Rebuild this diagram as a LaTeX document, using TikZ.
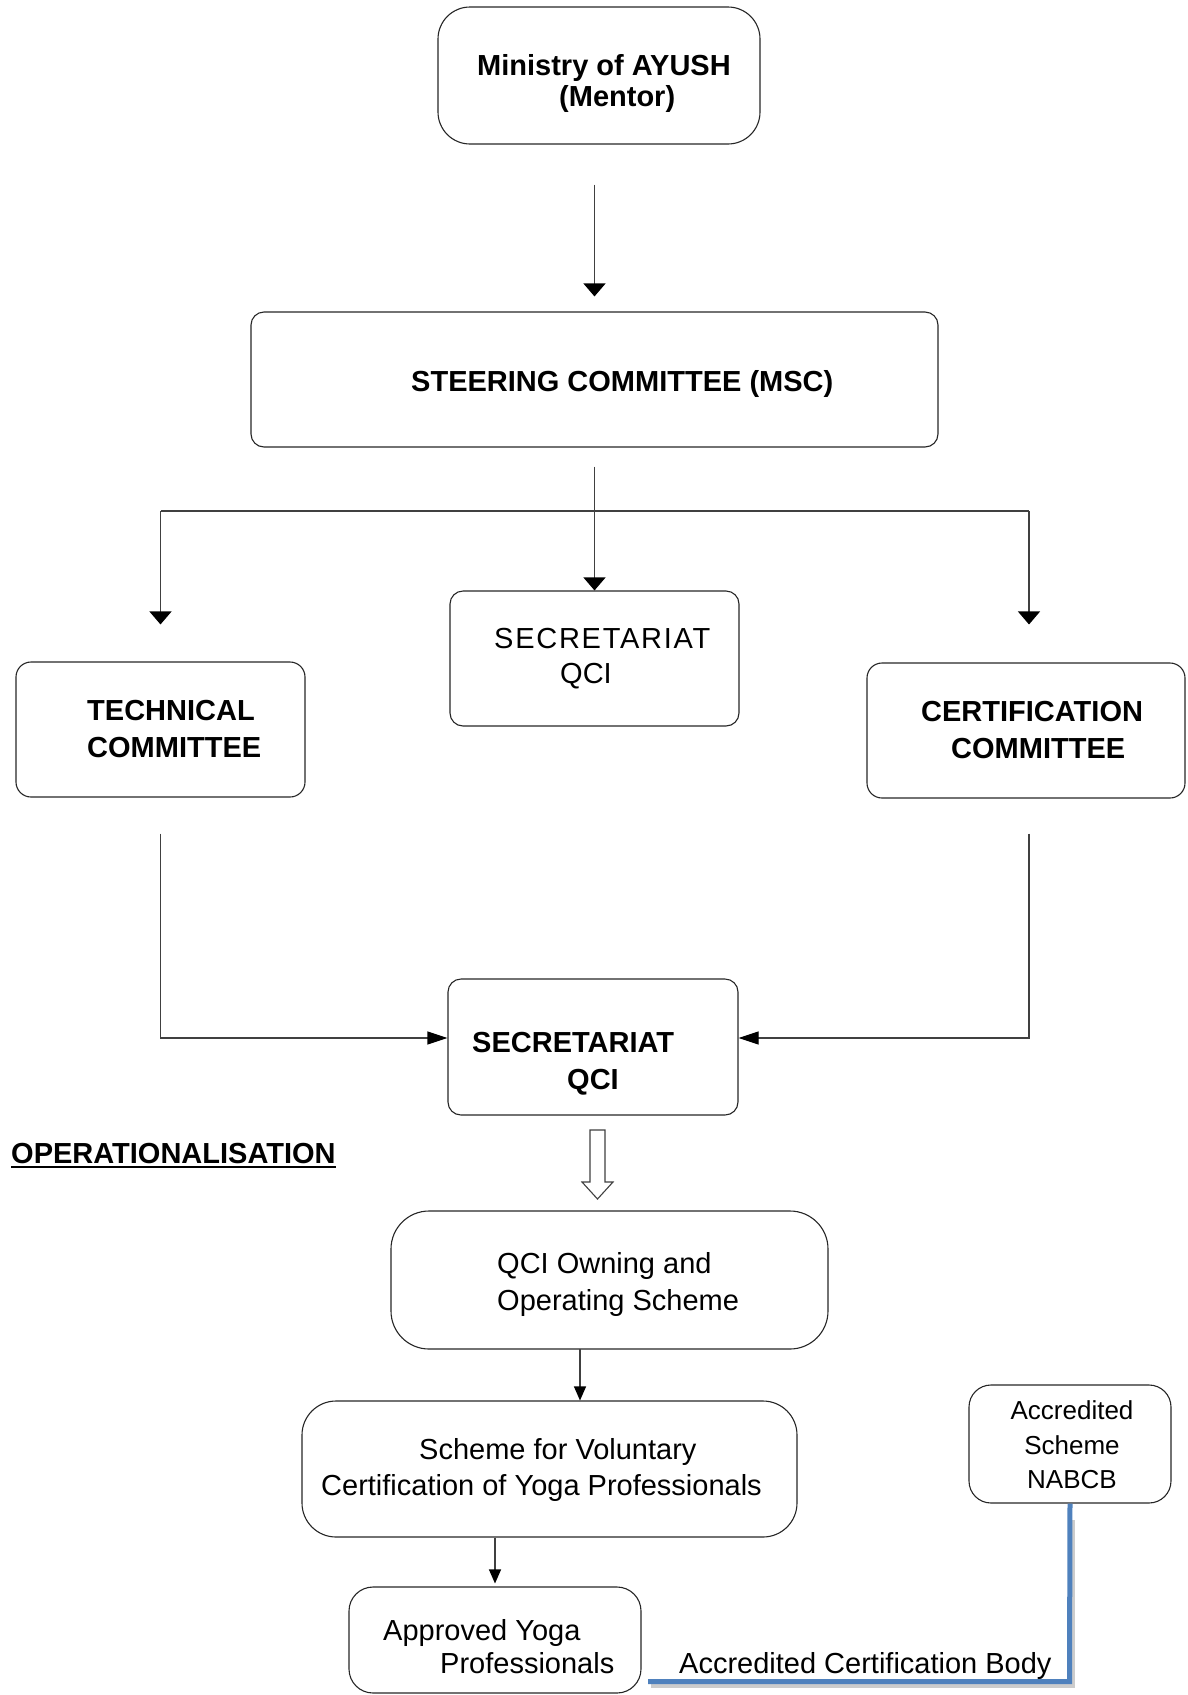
\documentclass[tikz,border=0pt]{standalone}
\usepackage{fontspec}
\setmainfont{Liberation Sans}
\usetikzlibrary{arrows.meta}
\definecolor{acblue}{RGB}{79,129,189}
\begin{document}
\begin{tikzpicture}[x=1pt,y=-1pt,
  box/.style={draw=black!85, line width=1.1pt, rounded corners=#1, inner sep=0pt},
  box/.default=14pt,
  ln/.style={draw=black!75, line width=1.1pt},
  varr/.style={ln, -{Triangle[length=13pt,width=22pt,color=black]}},
  harr/.style={ln, -{Triangle[length=20pt,width=13pt,color=black]}},
  sarr/.style={ln, -{Triangle[length=14pt,width=12pt,color=black]}},
  tb/.style={font=\fontsize{29pt}{33pt}\selectfont\bfseries, inner sep=0pt, anchor=base west},
  tr/.style={font=\fontsize{29pt}{33pt}\selectfont, inner sep=0pt, anchor=base west},
  ts/.style={font=\fontsize{26pt}{30pt}\selectfont, inner sep=0pt, anchor=base},
]
\useasboundingbox (0,0) rectangle (1188,1695);

% boxes
\node[box=32pt, minimum width=322pt, minimum height=137pt] (mini) at (599,75.5) {};
\node[box=13pt, minimum width=687pt, minimum height=135pt] (steer) at (594.5,379.5) {};
\node[box=13pt, minimum width=289pt, minimum height=135pt] (sec1) at (594.5,658.5) {};
\node[box=15pt, minimum width=289pt, minimum height=135pt] (tech) at (160.5,729.5) {};
\node[box=15pt, minimum width=318pt, minimum height=135pt] (cert) at (1026,730.5) {};
\node[box=13pt, minimum width=290pt, minimum height=136pt] (sec2) at (593,1047) {};
\node[box=38pt, minimum width=437pt, minimum height=138pt] (qown) at (609.5,1280) {};
\node[box=34pt, minimum width=495pt, minimum height=136pt] (scheme) at (549.5,1469) {};
\node[box=24pt, minimum width=292pt, minimum height=106pt] (appr) at (495,1640) {};
\node[box=22pt, minimum width=202pt, minimum height=118pt] (nabcb) at (1070,1444) {};

% texts
\node[tb] (tmini1) at (477,75) {Ministry of AYUSH};
\node[tb] (tmini2) at (559,106) {(Mentor)};
\node[tb] (tsteer) at (411,391) {STEERING COMMITTEE (MSC)};
\node[tr] (tseca) at (494,648) {\addfontfeatures{LetterSpace=6}SECRETARIAT};
\node[tr] (tsecb) at (560,683) {QCI};
\node[tb] (ttech1) at (87,720) {TECHNICAL};
\node[tb] (ttech2) at (87,757) {COMMITTEE};
\node[tb] (tcert1) at (921,721) {CERTIFICATION};
\node[tb] (tcert2) at (951,758) {COMMITTEE};
\node[tb] (tsec2a) at (472,1052) {SECRETARIAT};
\node[tb] (tsec2b) at (567,1089) {QCI};
\node[tb] (op) at (11,1163) {OPERATIONALISATION};
\draw[line width=2.5pt] ([yshift=-4pt]op.base west) -- ([yshift=-4pt]op.base east);
\node[tr] (tq1) at (497,1273) {QCI Owning and};
\node[tr] (tq2) at (497,1310) {Operating Scheme};
\node[tr] (ts1) at (419,1459) {Scheme for Voluntary};
\node[tr] (ts2) at (321,1495) {Certification of Yoga Professionals};
\node[tr] (ta1) at (383,1640) {Approved Yoga};
\node[tr] (ta2) at (440,1673) {Professionals};
\node[ts] (tn1) at (1072,1419) {Accredited};
\node[ts] (tn2) at (1072,1454) {Scheme};
\node[ts] (tn3) at (1072,1488) {NABCB};
\node[tr] (acb) at (679,1673) {Accredited Certification Body};

% connectors
\draw[varr, shorten <=40pt, shorten >=15pt] (steer.north |- mini.south) -- (steer.north);
\coordinate (split) at (594.5,511);
\coordinate (rcol) at (1029,511);
\draw[varr, shorten <=19pt] (steer.south) -- (sec1.north);
\draw[ln] (tech.north |- split) -- (rcol);
\draw[varr, shorten >=37pt] (tech.north |- split) -- (tech.north);
\draw[varr, shorten >=38pt] (rcol) -- (rcol |- cert.north);
\draw[harr, shorten <=36pt] (tech.south) |- ([yshift=9pt]sec2.west);
\draw[harr, shorten <=35pt] (rcol |- cert.south) |- ([yshift=9pt]sec2.east);

% hollow arrow
\draw[ln, fill=white] (590,1130) -- (605,1130) -- (605,1182) -- (613,1182) -- (597.5,1199) -- (582,1182) -- (590,1182) -- cycle;

\coordinate (q2s) at (580,1349);
\draw[sarr] (q2s) -- (q2s |- scheme.north);
\draw[sarr, shorten >=3pt] (appr.north |- scheme.south) -- (appr.north);

% blue line
\coordinate (corner) at (1069.5,1681.5);
\coordinate (bend) at (648,1681.5);
\draw[gray!40, line width=4pt] (651,1686) -- (1073,1686) -- (1073,1520);
\draw[acblue, line width=5pt] (nabcb.south) -- (corner) -- (bend);
\end{tikzpicture}
\end{document}
